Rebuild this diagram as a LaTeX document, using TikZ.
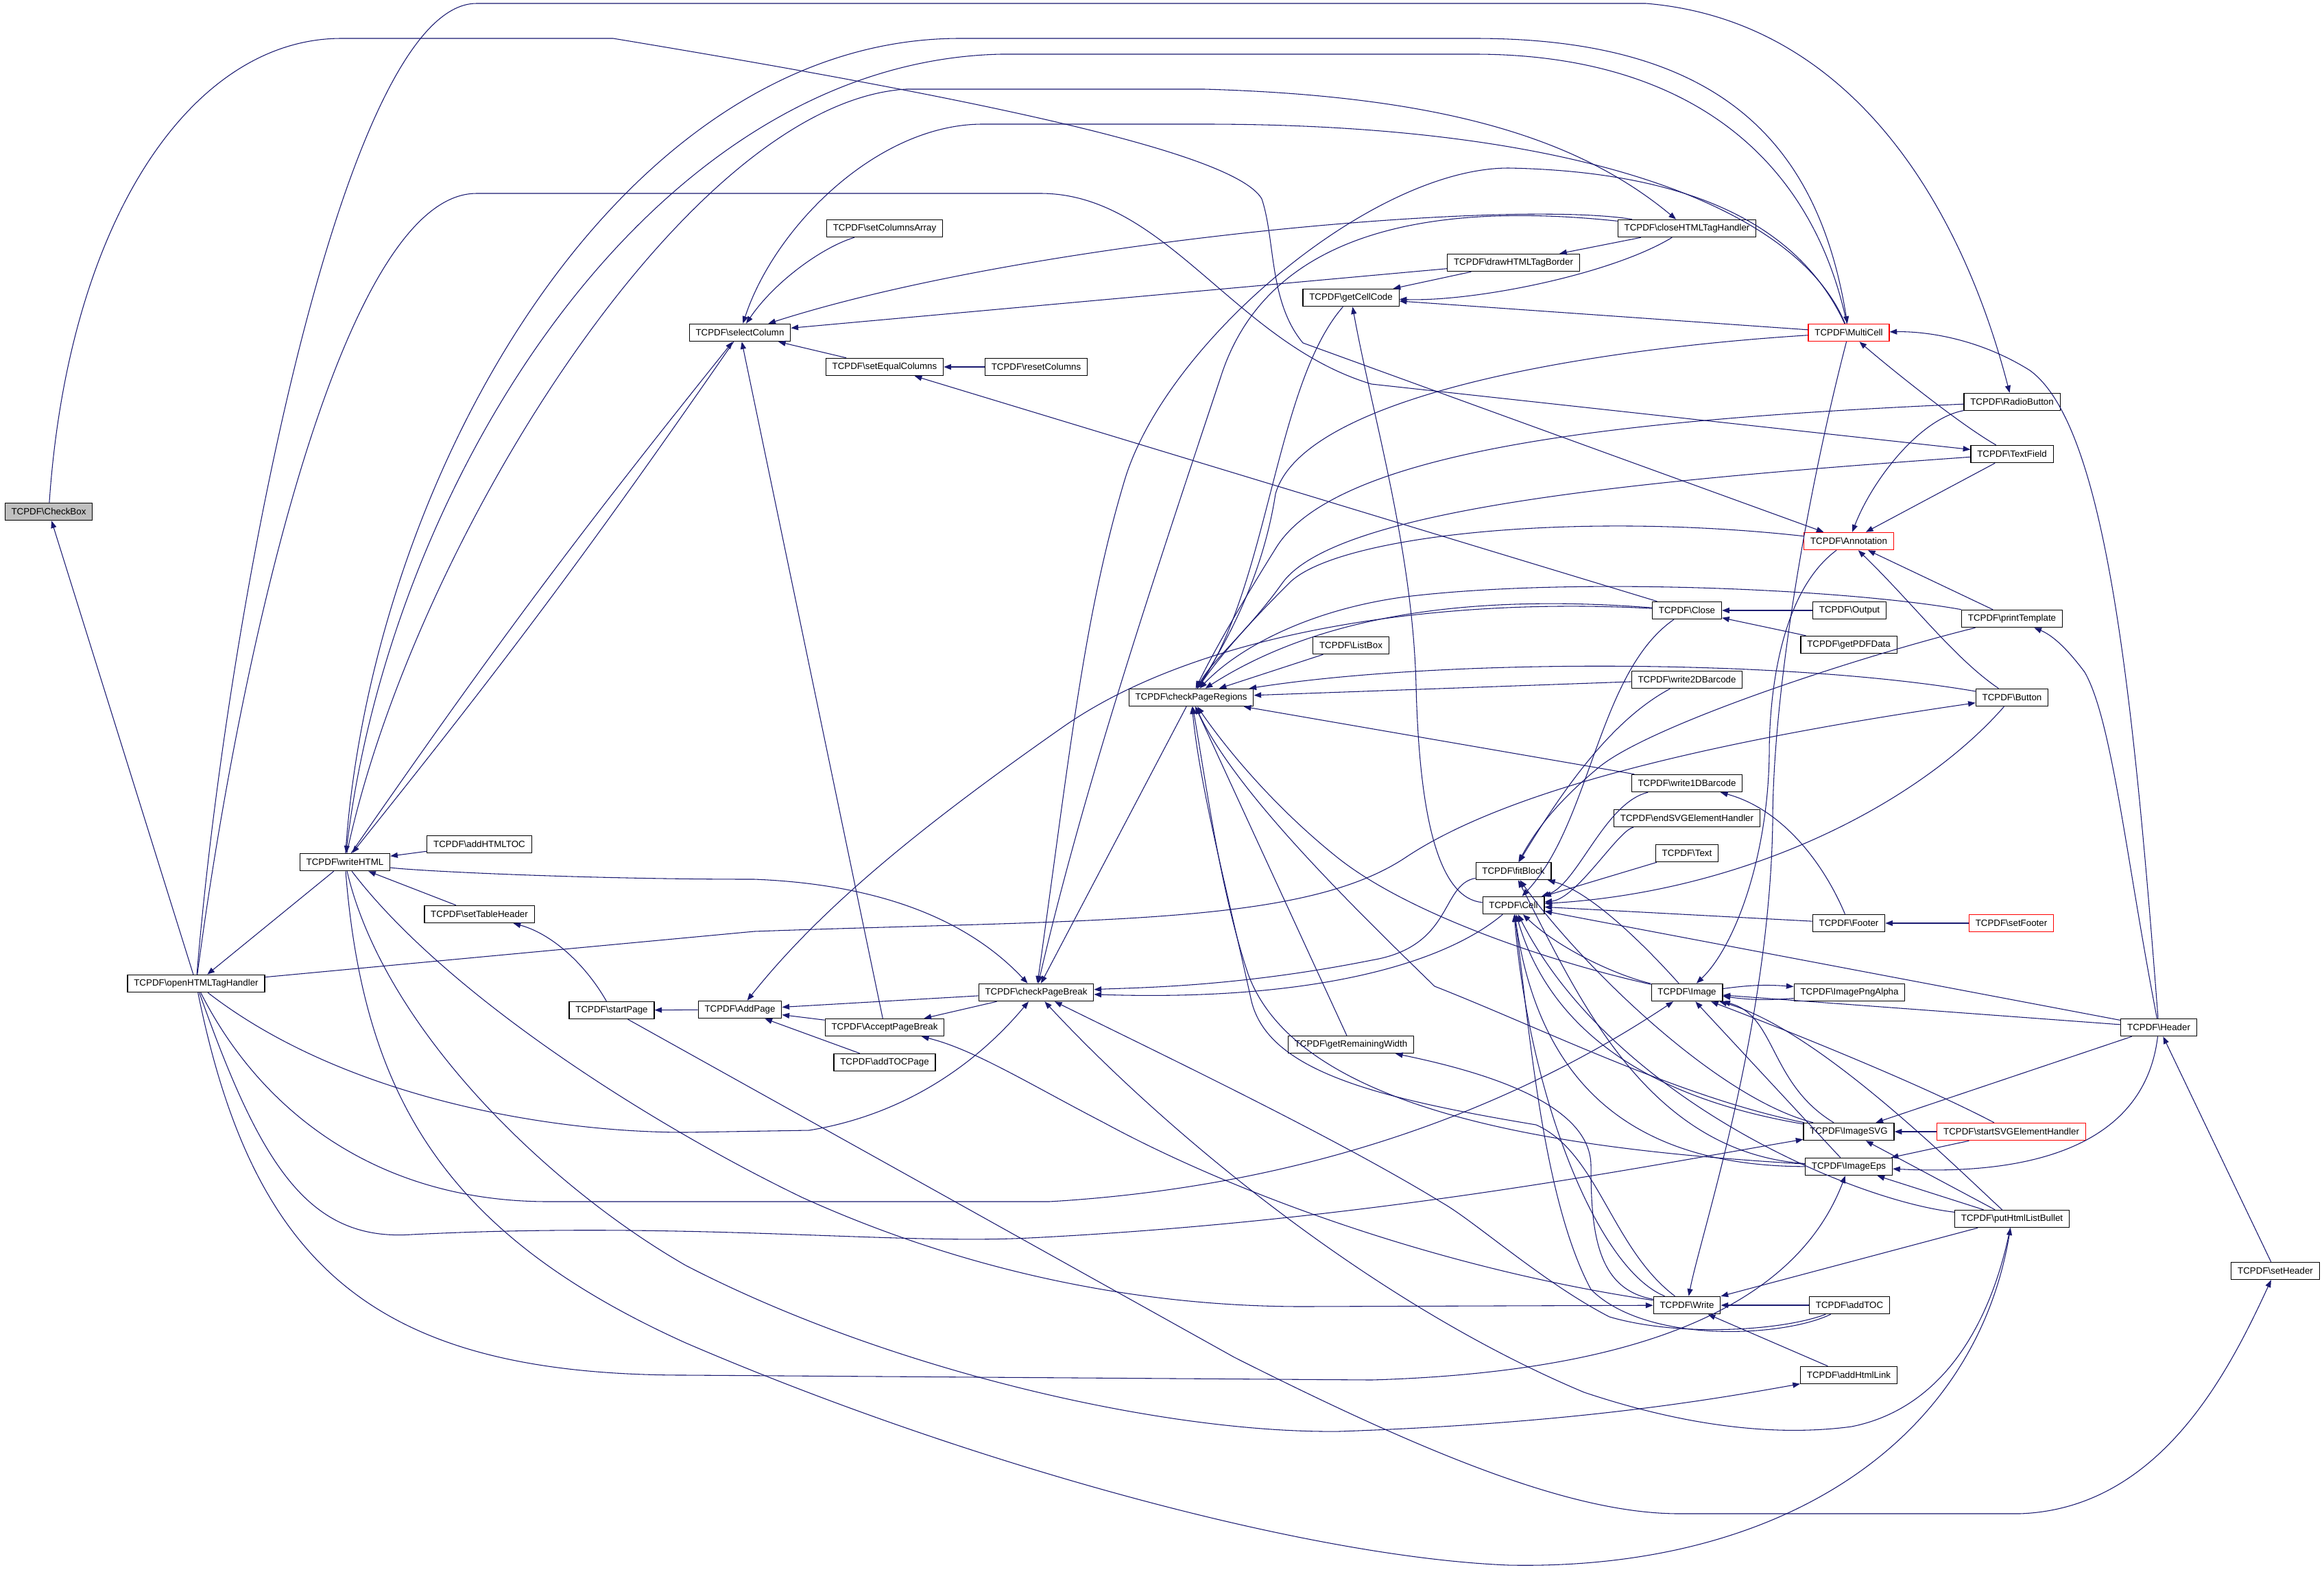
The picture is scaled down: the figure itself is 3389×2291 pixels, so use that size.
\documentclass[tikz,border=0pt]{standalone}
\usepackage{fontspec}
\setmainfont{Liberation Sans}
\usetikzlibrary{arrows.meta,positioning}
\definecolor{edgeblue}{HTML}{191970}
\newcommand{\tcpdf}[1]{TCPDF\textbackslash #1}
\tikzset{
  fn/.style={draw=black,line width=0.9pt,fill=white,inner xsep=7pt,inner ysep=0pt,
    minimum height=19pt,font=\fontsize{10}{12}\selectfont},
  root/.style={fn,fill=black!25},
  trunc/.style={fn,draw=red},
}
\begin{document}
\begin{tikzpicture}[x=0.75pt,y=-0.75pt,node distance=177.75pt]
  \useasboundingbox (0,0) rectangle (3389,2291);

  \node[root]  (CB)  at (71,746)    {\tcpdf{CheckBox}};
  \node[fn]    (OH)  at (286,1434)  {\tcpdf{openHTMLTagHandler}};
  \node[fn]    (WH)  at (503,1257)  {\tcpdf{writeHTML}};
  \node[fn]    (AHT) at (699,1231)  {\tcpdf{addHTMLTOC}};
  \node[fn]    (STH) at (699,1333)  {\tcpdf{setTableHeader}};
  \node[fn]    (SP)  at (892,1473)  {\tcpdf{startPage}};
  \node[fn]    (SC)  at (1079,485)  {\tcpdf{selectColumn}};
  \node[fn]    (SCA) at (1290,333)  {\tcpdf{setColumnsArray}};
  \node[fn]    (SEC) at (1290,535)  {\tcpdf{setEqualColumns}};
  \node[fn]    (RC)  at (1511,535)  {\tcpdf{resetColumns}};
  \node[fn]    (AP)  at (1079,1472) {\tcpdf{AddPage}};
  \node[fn]    (APB) at (1290,1498) {\tcpdf{AcceptPageBreak}};
  \node[fn]    (ATP) at (1290,1549) {\tcpdf{addTOCPage}};
  \node[fn]    (CPB) at (1511,1447) {\tcpdf{checkPageBreak}};
  \node[fn]    (CPR) at (1737,1017) {\tcpdf{checkPageRegions}};
  \node[fn]    (GCC) at (1970,434)  {\tcpdf{getCellCode}};
  \node[fn]    (LB)  at (1970,941)  {\tcpdf{ListBox}};
  \node[fn]    (GRW) at (1970,1523) {\tcpdf{getRemainingWidth}};
  \node[fn]    (DHB) at (2207,383)  {\tcpdf{drawHTMLTagBorder}};
  \node[fn]    (FB)  at (2207,1270) {\tcpdf{fitBlock}};
  \node[fn]    (CE)  at (2207,1320) {\tcpdf{Cell}};
  \node[fn]    (CH)  at (2460,333)  {\tcpdf{closeHTMLTagHandler}};
  \node[fn]    (CL)  at (2460,890)  {\tcpdf{Close}};
  \node[fn]    (W2D) at (2460,991)  {\tcpdf{write2DBarcode}};
  \node[fn]    (W1D) at (2460,1142) {\tcpdf{write1DBarcode}};
  \node[fn]    (ESE) at (2460,1193) {\tcpdf{endSVGElementHandler}};
  \node[fn]    (TX)  at (2460,1244) {\tcpdf{Text}};
  \node[fn]    (IM)  at (2460,1447) {\tcpdf{Image}};
  \node[fn]    (WR)  at (2460,1903) {\tcpdf{Write}};
  \node[trunc] (MC)  at (2696,485)  {\tcpdf{MultiCell}};
  \node[trunc] (AN)  at (2696,789)  {\tcpdf{Annotation}};
  \node[fn]    (OU)  [right of=CL]  {\tcpdf{Output}};
  \node[fn]    (GPD) at (2696,940)  {\tcpdf{getPDFData}};
  \node[fn]    (FO)  at (2696,1346) {\tcpdf{Footer}};
  \node[fn]    (IPA) [right of=IM]  {\tcpdf{ImagePngAlpha}};
  \node[fn]    (SVG) at (2696,1650) {\tcpdf{ImageSVG}};
  \node[fn]    (EPS) at (2696,1701) {\tcpdf{ImageEps}};
  \node[fn]    (ATOC) [right of=WR] {\tcpdf{addTOC}};
  \node[fn]    (AHL) at (2696,2005) {\tcpdf{addHtmlLink}};
  \node[fn]    (RB)  at (2934,586)  {\tcpdf{RadioButton}};
  \node[fn]    (TF)  at (2934,662)  {\tcpdf{TextField}};
  \node[fn]    (PT)  at (2934,902)  {\tcpdf{printTemplate}};
  \node[fn]    (BU)  at (2934,1017) {\tcpdf{Button}};
  \node[trunc] (SF)  [right of=FO]  {\tcpdf{setFooter}};
  \node[trunc] (SSE) [right of=SVG] {\tcpdf{startSVGElementHandler}};
  \node[fn]    (PHL) at (2934,1777) {\tcpdf{putHtmlListBullet}};
  \node[fn]    (HD)  at (3148,1498) {\tcpdf{Header}};
  \node[fn]    (SH)  at (3318,1853) {\tcpdf{setHeader}};

  \begin{scope}[edgeblue,line width=0.8pt,-{Triangle[length=8pt,width=6pt]}]
  % root and openHTMLTagHandler
  \path (OH) edge (CB)
        (WH) edge (OH)
        (AHT) edge (WH)
        (STH) edge (WH);
  \draw (CB) .. controls (100,320) and (280,56) .. (498,56) -- (894,56)
        .. controls (1400,140) and (1800,220) .. (1840,290)
        .. controls (1860,350) and (1850,440) .. (1900,500) -- (AN);
  \draw (OH) .. controls (330,900) and (500,5) .. (695,5) -- (2400,5)
        .. controls (2700,30) and (2860,300) .. (RB);
  \draw (OH) .. controls (350,950) and (500,282) .. (695,282) -- (1517,282)
        .. controls (1700,282) and (1800,500) .. (2000,560) -- (TF);
  \draw (OH) -- (1100,1358) .. controls (1600,1340) and (1900,1350) .. (2050,1250)
        .. controls (2200,1150) and (2500,1080) .. (BU);
  \draw (OH) .. controls (500,1600) and (800,1651) .. (1000,1651) -- (1180,1648)
        .. controls (1350,1620) and (1450,1520) .. (CPB);
  \draw (OH) .. controls (380,1620) and (550,1752) .. (800,1752) -- (1530,1752)
        .. controls (1900,1730) and (2200,1620) .. (IM);
  \draw (OH) .. controls (380,1700) and (450,1810) .. (600,1800)
        .. controls (1000,1780) and (1300,1815) .. (1500,1805)
        .. controls (2000,1780) and (2400,1700) .. (SVG);
  \draw (OH) .. controls (370,1850) and (550,2005) .. (1000,2005) -- (2000,2012)
        .. controls (2400,2000) and (2620,1900) .. (EPS);
  % writeHTML
  \draw (WH) .. controls (540,700) and (900,56) .. (1400,56) -- (2150,56)
        .. controls (2500,56) and (2650,200) .. (MC);
  \draw (MC) .. controls (2640,220) and (2450,79) .. (2150,79) -- (1460,79)
        .. controls (950,90) and (570,700) .. (WH);
  \draw (WH) .. controls (600,800) and (1000,150) .. (1321,130) -- (1756,130)
        .. controls (2100,140) and (2300,200) .. (CH);
  \draw (WH) .. controls (610,1270) and (850,1282) .. (1100,1282)
        .. controls (1300,1290) and (1420,1350) .. (CPB);
  \draw (WH) to[bend left=2] (SC);
  \draw (SC) to[bend left=2] (WH);
  \draw (WH) .. controls (650,1450) and (950,1640) .. (1170,1746)
        .. controls (1400,1850) and (1650,1905) .. (1900,1905) -- (WR);
  \draw (WH) .. controls (560,1500) and (800,1730) .. (1000,1845)
        .. controls (1300,2000) and (1700,2090) .. (1953,2087)
        .. controls (2300,2075) and (2500,2040) .. (AHL);
  \draw (WH) .. controls (530,1600) and (650,1800) .. (1000,1958)
        .. controls (1400,2130) and (1900,2270) .. (2200,2282)
        .. controls (2600,2290) and (2880,2100) .. (PHL);
  % columns
  \draw (SCA) .. controls (1200,360) and (1130,410) .. (SC);
  \path (SEC) edge (SC)
        (RC) edge (SEC)
        (DHB) edge (SC)
        (CL) edge (SEC)
        (APB) edge (SC);
  \draw (CH) .. controls (2200,290) and (1500,350) .. (SC);
  \draw (MC) .. controls (2620,300) and (2300,181) .. (1756,181) -- (1433,181)
        .. controls (1280,181) and (1130,330) .. (SC);
  % pages
  \path (AP) edge (SP)
        (CPB) edge (AP)
        (APB) edge (AP)
        (ATP) edge (AP)
        (CPB) edge (APB);
  \draw (SP) .. controls (850,1400) and (800,1360) .. (STH);
  \draw (CL) .. controls (2100,870) and (1750,920) .. (1550,1060)
        .. controls (1350,1200) and (1200,1320) .. (AP);
  \draw (SP) -- (1800,1979) .. controls (2100,2130) and (2300,2207) .. (2449,2207)
        -- (2945,2207) .. controls (3150,2200) and (3250,2000) .. (SH);
  \draw (WR) .. controls (2100,1850) and (1800,1740) .. (1610,1637)
        .. controls (1500,1580) and (1420,1530) .. (APB);
  % checkPageBreak
  \path (CPR) edge (CPB);
  \draw (CH) .. controls (2100,295) and (1850,330) .. (1780,550)
        .. controls (1680,850) and (1580,1150) .. (CPB);
  \draw (MC) .. controls (2620,320) and (2450,250) .. (2200,245)
        .. controls (2000,245) and (1700,500) .. (1640,700)
        .. controls (1580,900) and (1560,1100) .. (CPB);
  \draw (FB) .. controls (2100,1290) and (2120,1380) .. (2000,1400)
        .. controls (1800,1440) and (1650,1440) .. (CPB);
  \draw (CE) .. controls (2100,1410) and (1900,1460) .. (CPB);
  \draw (ATOC) .. controls (2600,1940) and (2450,1950) .. (2347,1920)
        .. controls (2250,1870) and (2150,1780) .. (2102,1753)
        .. controls (1950,1660) and (1700,1540) .. (CPB);
  \draw (PHL) .. controls (2910,1900) and (2850,2050) .. (2700,2080)
        .. controls (2550,2100) and (2400,2060) .. (2310,2030)
        .. controls (2000,1900) and (1700,1650) .. (CPB);
  % checkPageRegions
  \draw (GCC) .. controls (1860,560) and (1850,850) .. (CPR);
  \draw (MC) .. controls (2300,510) and (1900,580) .. (1860,720)
        .. controls (1840,850) and (1780,950) .. (CPR);
  \draw (RB) .. controls (2400,610) and (1950,650) .. (1860,800)
        .. controls (1810,880) and (1770,950) .. (CPR);
  \draw (TF) .. controls (2400,700) and (1950,740) .. (1870,850)
        .. controls (1820,920) and (1770,960) .. (CPR);
  \draw (AN) .. controls (2300,745) and (1950,780) .. (1880,850)
        .. controls (1800,930) and (1770,970) .. (CPR);
  \draw (PT) .. controls (2700,860) and (2300,840) .. (2050,870)
        .. controls (1900,890) and (1800,950) .. (CPR);
  \draw (CL) .. controls (2200,870) and (1950,880) .. (CPR);
  \draw (BU) .. controls (2600,960) and (2100,960) .. (CPR);
  \path (LB) edge (CPR)
        (W2D) edge (CPR)
        (W1D) edge (CPR)
        (GRW) edge (CPR);
  \draw (IM) .. controls (2250,1400) and (2050,1330) .. (1950,1250)
        .. controls (1850,1170) and (1780,1080) .. (CPR);
  \draw (SVG) .. controls (2450,1600) and (2250,1500) .. (2092,1438)
        .. controls (1950,1300) and (1800,1150) .. (CPR);
  \draw (EPS) .. controls (2350,1680) and (1900,1640) .. (1820,1420)
        .. controls (1780,1300) and (1760,1150) .. (CPR);
  \draw (WR) .. controls (2350,1820) and (2330,1680) .. (2240,1640)
        .. controls (2000,1600) and (1850,1560) .. (1825,1460)
        .. controls (1790,1300) and (1750,1150) .. (CPR);
  % getCellCode
  \path (DHB) edge (GCC)
        (MC) edge (GCC)
        (CH) edge (DHB);
  \draw (CH) .. controls (2350,400) and (2150,440) .. (GCC);
  \draw (CE) .. controls (2100,1310) and (2070,1200) .. (2065,1000)
        .. controls (2060,800) and (2000,600) .. (GCC);
  % fitBlock and Cell
  \draw (PT) .. controls (2700,960) and (2400,1060) .. (2330,1120)
        .. controls (2270,1170) and (2240,1210) .. (FB);
  \draw (W2D) .. controls (2350,1050) and (2280,1150) .. (FB);
  \draw (IM) .. controls (2400,1380) and (2320,1300) .. (FB);
  \draw (SVG) .. controls (2500,1600) and (2300,1400) .. (FB);
  \draw (EPS) .. controls (2400,1680) and (2300,1450) .. (FB);
  \draw (BU) .. controls (2800,1170) and (2550,1300) .. (CE);
  \draw (W1D) .. controls (2340,1170) and (2300,1290) .. (CE);
  \draw (ESE) .. controls (2360,1210) and (2300,1310) .. (CE);
  \path (TX) edge (CE)
        (FO) edge (CE)
        (HD) edge (CE);
  \draw (CL) .. controls (2330,980) and (2320,1200) .. (CE);
  \draw (IM) .. controls (2350,1420) and (2270,1380) .. (CE);
  \draw (SVG) .. controls (2400,1600) and (2260,1500) .. (CE);
  \draw (EPS) .. controls (2350,1700) and (2240,1550) .. (CE);
  \draw (WR) .. controls (2330,1850) and (2230,1600) .. (CE);
  \draw (ATOC) .. controls (2600,1950) and (2400,1960) .. (2320,1880)
        .. controls (2250,1750) and (2230,1500) .. (CE);
  \draw (PHL) .. controls (2700,1750) and (2350,1600) .. (CE);
  % Image
  \draw (IM) to[bend left=6] (IPA);
  \draw (IPA) to[bend left=6] (IM);
  \path (HD) edge (IM)
        (EPS) edge (IM);
  \draw (SVG) .. controls (2580,1580) and (2590,1480) .. (IM);
  \draw (SSE) .. controls (2800,1580) and (2600,1500) .. (IM);
  \draw (PHL) .. controls (2850,1700) and (2650,1500) .. (IM);
  \draw (AN) .. controls (2600,860) and (2580,1000) .. (2580,1100)
        .. controls (2578,1250) and (2530,1380) .. (IM);
  \draw (WR) .. controls (2330,1880) and (2320,1800) .. (2320,1700)
        .. controls (2320,1620) and (2200,1570) .. (GRW);
  % Annotation, forms, MultiCell
  \draw (RB) .. controls (2800,610) and (2730,700) .. (AN);
  \path (TF) edge (AN)
        (PT) edge (AN);
  \draw (BU) .. controls (2850,960) and (2790,880) .. (AN);
  \path (OU) edge (CL)
        (GPD) edge (CL)
        (SF) edge (FO);
  \draw (FO) .. controls (2660,1260) and (2600,1180) .. (W1D);
  \draw (MC) .. controls (2640,700) and (2585,1000) .. (2585,1200)
        .. controls (2580,1500) and (2480,1800) .. (WR);
  \draw (TF) .. controls (2860,620) and (2760,540) .. (MC);
  \draw (HD) .. controls (3110,1000) and (3070,620) .. (2960,540)
        .. controls (2880,490) and (2800,483) .. (MC);
  \draw (HD) .. controls (3100,1250) and (3080,1050) .. (3040,980)
        .. controls (3010,940) and (2990,925) .. (PT);
  \path (SH) edge (HD)
        (HD) edge (SVG);
  \draw (HD) .. controls (3130,1650) and (3000,1716) .. (EPS);
  \path (SSE) edge (SVG)
        (SSE) edge (EPS)
        (PHL) edge (SVG)
        (PHL) edge (EPS)
        (PHL) edge (WR)
        (ATOC) edge (WR)
        (AHL) edge (WR);
  \end{scope}
\end{tikzpicture}
\end{document}
